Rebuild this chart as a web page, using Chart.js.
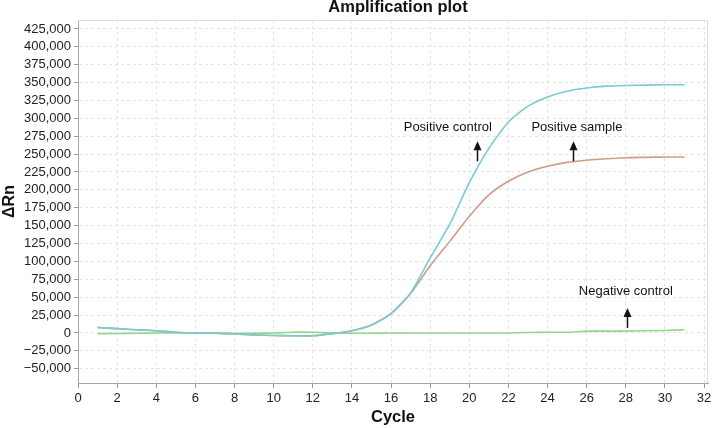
<!DOCTYPE html>
<html>
<head>
<meta charset="utf-8">
<script src="https://cdn.jsdelivr.net/npm/chart.js@4.4.1/dist/chart.umd.min.js"></script>
<style>
  html, body { margin: 0; padding: 0; background: #fff; }
</style>
</head>
<body>
<canvas id="chart" width="718" height="428"></canvas>
<script>
// data
const cycles = [1,2,3,4,5,6,7,8,9,10,11,12,13,14,15,16,17,18,19,20,21,22,23,24,25,26,27,28,29,30,31];
const positiveControl = [7500,6000,4500,3000,1000,0,-500,-1500,-2800,-3500,-4000,-4000,-1000,3000,11000,27000,56000,105000,152000,210000,258000,295000,317000,330000,338000,342500,345000,346000,346500,347000,347000];
const positiveSample = [7500,6000,4500,3000,1000,0,-500,-1500,-2800,-3500,-4000,-4000,-1000,3000,11000,27000,55000,94000,128000,163000,193000,212000,225000,233000,238500,241500,243500,245000,245500,246000,246000];
const negativeControl = [-1000,-800,-500,0,0,0,0,-500,-500,0,1000,1000,0,-500,-500,0,0,0,0,0,0,0,500,1000,1000,2500,2500,2500,3000,3500,4500];
const xTicks = [0,2,4,6,8,10,12,14,16,18,20,22,24,26,28,30,32];
const yTicks = [-50000,-25000,0,25000,50000,75000,100000,125000,150000,175000,200000,225000,250000,275000,300000,325000,350000,375000,400000,425000];

// label text + arrow (data coordinates)
const notes = [
  {text: 'Positive control', x: 18.9, y: 287000, ax: 20.4, from: 240000, to: 268000},
  {text: 'Positive sample', x: 25.5, y: 288000, ax: 25.3, from: 240000, to: 268000},
  {text: 'Negative control', x: 28.0, y: 58500, ax: 28.05, from: 7000, to: 35000}
];

const FONT = '"Liberation Sans", Arial, sans-serif';

function toXY(vals) {
  return cycles.map((c, i) => ({x: c, y: vals[i]}));
}

const extras = {
  id: 'extras',
  beforeDatasetsDraw(chart) {
    const {ctx, chartArea: a} = chart;
    ctx.save();
    ctx.strokeStyle = '#dcdcdc';
    ctx.lineWidth = 1;
    ctx.beginPath();
    ctx.moveTo(a.left, a.top + 0.5);
    ctx.lineTo(a.right - 0.5, a.top + 0.5);
    ctx.lineTo(a.right - 0.5, a.bottom);
    ctx.stroke();
    ctx.restore();
  },
  afterDatasetsDraw(chart) {
    const {ctx, chartArea: a} = chart;
    const xs = chart.scales.x, ys = chart.scales.y;
    ctx.save();
    // title
    ctx.fillStyle = '#111';
    ctx.font = 'bold 16.5px ' + FONT;
    ctx.textAlign = 'center';
    ctx.textBaseline = 'middle';
    ctx.fillText('Amplification plot', (a.left + a.right) / 2 + 5, 7);

    ctx.strokeStyle = '#111';
    ctx.font = '13px ' + FONT;
    notes.forEach(n => {
      ctx.fillText(n.text, xs.getPixelForValue(n.x), ys.getPixelForValue(n.y));
      const px = Math.round(xs.getPixelForValue(n.ax)) + 0.5;
      const y0 = ys.getPixelForValue(n.from);
      const y1 = ys.getPixelForValue(n.to);
      ctx.lineWidth = 1.5;
      ctx.beginPath();
      ctx.moveTo(px, y0);
      ctx.lineTo(px, y1 + 6);
      ctx.stroke();
      ctx.beginPath();
      ctx.moveTo(px, y1);
      ctx.lineTo(px - 4, y1 + 9);
      ctx.lineTo(px + 4, y1 + 9);
      ctx.closePath();
      ctx.fill();
    });
    ctx.restore();
  }
};

const gridOpts = {
  color: '#e4e4e4',
  tickColor: '#999',
  tickLength: 4,
  tickBorderDash: []
};

new Chart(document.getElementById('chart'), {
  type: 'line',
  data: {
    datasets: [
      {label: 'Positive control', data: toXY(positiveControl), borderColor: '#79cbd4', borderWidth: 1.6, pointRadius: 0, tension: 0.2},
      {label: 'Positive sample', data: toXY(positiveSample), borderColor: '#cf9c88', borderWidth: 1.6, pointRadius: 0, tension: 0.2},
      {label: 'Negative control', data: toXY(negativeControl), borderColor: '#92d68c', borderWidth: 1.6, pointRadius: 0, tension: 0.2}
    ]
  },
  options: {
    responsive: false,
    animation: false,
    layout: {padding: {top: 20, right: 10}},
    plugins: {
      legend: {display: false},
      tooltip: {enabled: false}
    },
    scales: {
      x: {
        type: 'linear',
        min: 0,
        max: 32.2,
        afterBuildTicks: s => { s.ticks = xTicks.map(v => ({value: v})); },
        afterFit: s => { s.height = 45; },
        grid: {...gridOpts, tickLength: 5},
        border: {color: '#a8a8a8', dash: [3, 3]},
        ticks: {color: '#222', padding: 3, font: {family: FONT, size: 13}},
        title: {
          display: true,
          text: 'Cycle',
          color: '#111',
          font: {family: FONT, size: 16.5, weight: 'bold'},
          padding: {top: 0, bottom: 1}
        }
      },
      y: {
        min: -70000,
        max: 437500,
        afterBuildTicks: s => { s.ticks = yTicks.map(v => ({value: v})); },
        afterFit: s => { s.width = 78; },
        grid: gridOpts,
        border: {color: '#a8a8a8', dash: [3, 3]},
        ticks: {
          color: '#222',
          padding: 3,
          font: {family: FONT, size: 13},
          callback: v => (v < 0 ? '\u2212' : '') + Math.abs(v).toLocaleString('en-US')
        },
        title: {
          display: true,
          text: 'ΔRn',
          color: '#111',
          font: {family: FONT, size: 16, weight: 'bold'},
          padding: {top: 0, bottom: 0}
        }
      }
    }
  },
  plugins: [extras]
});
</script>
</body>
</html>
